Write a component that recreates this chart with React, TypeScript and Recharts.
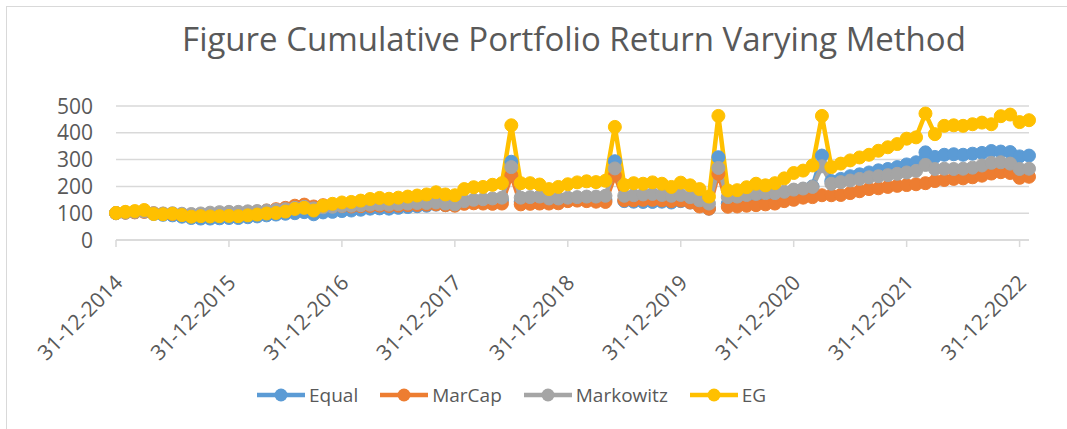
import { LineChart, Line, XAxis, YAxis, CartesianGrid } from "recharts"

// month-end dates, Dec 2014 .. Jan 2023
const pad = (n: number) => (n < 10 ? "0" + n : "" + n)
const dates: string[] = Array.from({ length: 98 }, (_, i) => {
  const y = 2014 + Math.floor((11 + i) / 12)
  const m = (11 + i) % 12
  const d = new Date(Date.UTC(y, m + 1, 0)).getUTCDate()
  return `${pad(d)}-${pad(m + 1)}-${y}`
})

const tickLabels = [
  "31-12-2014", "31-12-2015", "31-12-2016", "31-12-2017", "31-12-2018",
  "31-12-2019", "31-12-2020", "31-12-2021", "31-12-2022",
]
const yTicks = [0, 100, 200, 300, 400, 500]

const equal = [
  100, 102, 104, 106, 97, 94, 92, 87, 82, 80, 80, 81, 82, 82, 85, 88, 92, 95, 98, 100,
  104, 96, 103, 105, 108, 110, 113, 117, 118, 117, 120, 123, 126, 128, 132, 130, 130, 140, 143, 145,
  147, 148, 292, 143, 146, 148, 145, 148, 150, 150, 150, 148, 150, 294, 145, 143, 142, 142, 143, 140,
  145, 140, 130, 117, 309, 136, 138, 145, 150, 155, 160, 170, 185, 190, 200, 315, 220, 228, 238, 245,
  252, 260, 265, 272, 282, 290, 327, 310, 318, 320, 318, 322, 325, 332, 330, 328, 312, 315,
]
const marCap = [
  100, 102, 103, 105, 100, 98, 97, 95, 93, 93, 95, 97, 98, 100, 103, 106, 110, 115, 120, 128,
  132, 125, 130, 128, 126, 125, 126, 127, 128, 127, 128, 130, 131, 132, 133, 130, 128, 135, 137, 136,
  135, 136, 241, 133, 135, 136, 136, 137, 145, 147, 145, 143, 142, 241, 148, 148, 150, 150, 148, 145,
  147, 140, 125, 117, 247, 124, 125, 128, 130, 133, 136, 145, 150, 158, 160, 167, 167, 168, 175, 182,
  190, 193, 198, 202, 205, 208, 212, 220, 224, 228, 230, 234, 240, 248, 253, 250, 232, 236,
]
const markowitz = [
  100, 103, 105, 107, 100, 99, 100, 98, 97, 99, 102, 104, 105, 105, 107, 108, 110, 112, 115, 120,
  124, 118, 122, 124, 127, 128, 130, 132, 133, 132, 134, 136, 138, 138, 140, 136, 133, 145, 150, 152,
  155, 158, 272, 158, 160, 162, 155, 155, 158, 160, 162, 162, 165, 267, 165, 167, 170, 172, 168, 165,
  168, 160, 148, 136, 269, 160, 162, 168, 172, 175, 175, 180, 188, 192, 198, 275, 210, 216, 222, 228,
  234, 238, 242, 247, 252, 258, 280, 265, 266, 265, 266, 270, 278, 288, 290, 285, 265, 266,
]
const eg = [
  101, 105, 108, 112, 97, 96, 98, 93, 87, 89, 88, 89, 90, 89, 92, 95, 99, 101, 106, 116,
  120, 110, 128, 135, 140, 142, 147, 153, 157, 154, 158, 162, 166, 170, 178, 170, 167, 190, 197, 198,
  206, 212, 428, 212, 212, 207, 190, 198, 208, 215, 219, 216, 221, 422, 205, 212, 210, 215, 210, 198,
  214, 204, 190, 162, 463, 185, 186, 197, 210, 204, 212, 230, 250, 259, 278, 463, 272, 285, 297, 308,
  318, 333, 346, 358, 378, 383, 472, 395, 426, 428, 426, 432, 438, 432, 462, 468, 440, 447,
]

const series = [
  { key: "equal", name: "Equal", color: "#5B9BD5" },
  { key: "marCap", name: "MarCap", color: "#ED7D31" },
  { key: "markowitz", name: "Markowitz", color: "#A5A5A5" },
  { key: "eg", name: "EG", color: "#FFC000" },
]

const data = dates.map((date, i) => ({
  date,
  equal: equal[i],
  marCap: marCap[i],
  markowitz: markowitz[i],
  eg: eg[i],
}))

const font = "'Open Sans', sans-serif"
const textColor = "#595959"

function XTick(props: any) {
  const { x, y, payload } = props
  const ax = x + 8
  const ay = y + 35
  return (
    <text
      x={ax}
      y={ay}
      transform={`rotate(-45, ${ax}, ${ay})`}
      textAnchor="end"
      fill={textColor}
      fontSize={21}
      fontFamily={font}
    >
      {payload.value}
    </text>
  )
}

function YTick(props: any) {
  const { x, y, payload } = props
  return (
    <text x={x} y={y} dy="0.36em" textAnchor="end" fill={textColor} fontSize={21} fontFamily={font}>
      {payload.value}
    </text>
  )
}

function ChartLegend() {
  return (
    <div
      style={{
        position: "absolute",
        left: 257,
        top: 382,
        display: "flex",
        alignItems: "center",
        gap: 22,
        fontFamily: font,
        fontSize: 19,
        color: textColor,
      }}
    >
      {series.map((s) => (
        <div key={s.key} style={{ display: "flex", alignItems: "center", gap: 4 }}>
          <svg width={48} height={14}>
            <line x1={0} y1={7} x2={48} y2={7} stroke={s.color} strokeWidth={4.5} />
            <circle cx={24} cy={7} r={6.5} fill={s.color} />
          </svg>
          <span>{s.name}</span>
        </div>
      ))}
    </div>
  )
}

export default function App() {
  return (
    <div
      style={{
        position: "absolute",
        left: 0,
        top: 0,
        width: 1067,
        height: 429,
        overflow: "hidden",
        background: "#fff",
      }}
    >
      <div
        style={{
          position: "absolute",
          left: 6,
          top: 6,
          width: 1100,
          height: 500,
          border: "1.5px solid #D9D9D9",
        }}
      />
      <div
        style={{
          position: "absolute",
          left: 0,
          width: 1148,
          top: 16,
          textAlign: "center",
          fontFamily: font,
          fontWeight: 400,
          fontSize: 33,
          color: textColor,
        }}
      >
        Figure Cumulative Portfolio Return Varying Method
      </div>
      <div style={{ position: "absolute", left: 0, top: 0 }}>
        <LineChart width={1067} height={429} data={data} margin={{ top: 106, right: 38, left: 56, bottom: 129 }}>
          <CartesianGrid vertical={false} stroke="#D9D9D9" strokeWidth={1.5} />
          <XAxis
            dataKey="date"
            ticks={tickLabels}
            interval={0}
            height={60}
            stroke="#D9D9D9"
            strokeWidth={1.5}
            tickSize={7}
            tick={<XTick />}
          />
          <YAxis
            domain={[0, 500]}
            ticks={yTicks}
            width={60}
            axisLine={false}
            tickLine={false}
            tickSize={0}
            tickMargin={23}
            tick={<YTick />}
          />
          {series.map((s) => (
            <Line
              key={s.key}
              type="linear"
              dataKey={s.key}
              name={s.name}
              stroke={s.color}
              strokeWidth={4.5}
              dot={{ r: 6.5, fill: s.color, stroke: s.color, strokeWidth: 1 }}
              isAnimationActive={false}
            />
          ))}
        </LineChart>
      </div>
      <ChartLegend />
    </div>
  )
}
